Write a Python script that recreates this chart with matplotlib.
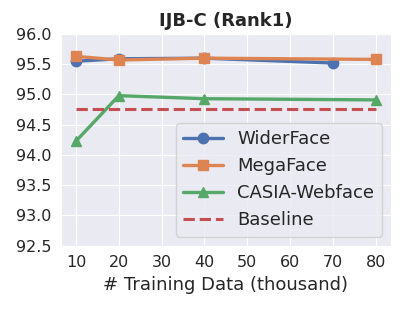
import matplotlib
matplotlib.use("Agg")
import matplotlib.pyplot as plt
import seaborn as sns

sns.set_style("darkgrid")
plt.rcParams['font.family'] = ['DejaVu Sans']

# data
wider_x = [10, 20, 40, 70]
wider_y = [95.55, 95.59, 95.60, 95.52]
mega_x = [10, 20, 40, 80]
mega_y = [95.63, 95.57, 95.60, 95.58]
casia_x = [10, 20, 40, 80]
casia_y = [94.23, 94.98, 94.93, 94.91]
baseline_x = [10, 80]
baseline_y = [94.76, 94.76]

fig, ax = plt.subplots(figsize=(4.07, 3.09), dpi=100)

ax.plot(wider_x, wider_y, marker='o', color='#4c72b0', lw=2.4, ms=7.5, label='WiderFace')
ax.plot(mega_x, mega_y, marker='s', color='#dd8452', lw=2.4, ms=7.5, label='MegaFace')
ax.plot(casia_x, casia_y, marker='^', color='#55a868', lw=2.4, ms=7.5, label='CASIA-Webface')
ax.plot(baseline_x, baseline_y, '--', color='#c44e52', lw=2.2, label='Baseline')

ax.set_ylim(92.5, 96.0)
ax.set_xticks([10, 20, 30, 40, 50, 60, 70, 80])
ax.set_yticks([92.5, 93.0, 93.5, 94.0, 94.5, 95.0, 95.5, 96.0])
ax.tick_params(labelsize=11.5)
ax.set_title('IJB-C (Rank1)', fontsize=13, fontweight='bold')
ax.set_xlabel('# Training Data (thousand)', fontsize=13)

ax.legend(loc='lower right', fontsize=13, frameon=True, handlelength=2.2)

plt.subplots_adjust(left=0.15, right=0.96, top=0.89, bottom=0.205)
plt.savefig('out.png', dpi=100)
